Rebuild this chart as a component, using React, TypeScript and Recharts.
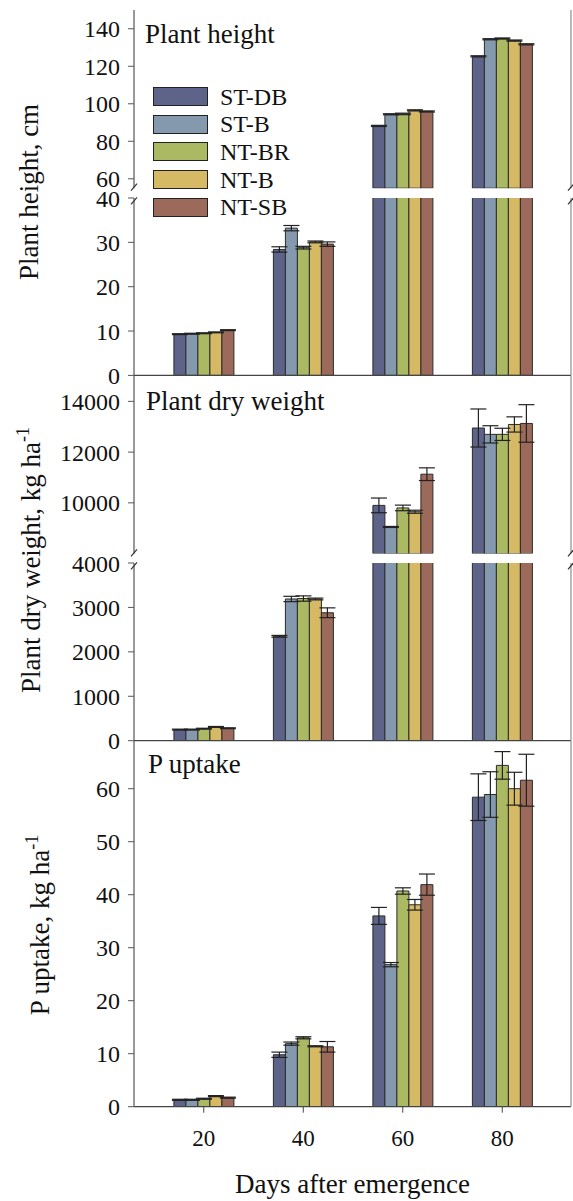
import React from 'react';
import { BarChart, Bar, XAxis, YAxis, ErrorBar, Legend } from 'recharts';

const days = ['20', '40', '60', '80'];
const treatments = ['ST-DB', 'ST-B', 'NT-BR', 'NT-B', 'NT-SB'];
const fills = ['#5d6389', '#8599ae', '#abb963', '#d5b964', '#9b6a5b'];

// plant height, cm (rows = treatments, columns = days)
const heightMean = [
  [9.3, 28.4, 88.2, 125.3],
  [9.4, 33.2, 94.4, 134.4],
  [9.5, 28.8, 94.6, 134.8],
  [9.7, 30.1, 96.5, 133.7],
  [10.2, 29.6, 95.9, 131.7],
];
const heightErr = [
  [0.1, 0.6, 0.3, 0.3],
  [0.1, 0.6, 0.3, 0.3],
  [0.1, 0.3, 0.4, 0.3],
  [0.1, 0.2, 0.3, 0.3],
  [0.1, 0.5, 0.3, 0.3],
];

// plant dry weight, kg/ha
const weightMean = [
  [250, 2350, 9900, 12950],
  [250, 3190, 9050, 12700],
  [270, 3200, 9800, 12700],
  [310, 3190, 9650, 13090],
  [280, 2880, 11130, 13130],
];
const weightErr = [
  [10, 20, 290, 750],
  [10, 60, 20, 340],
  [10, 60, 110, 240],
  [10, 20, 60, 300],
  [10, 110, 250, 740],
];

// P uptake, kg/ha
const uptakeMean = [
  [1.3, 9.8, 36.0, 58.4],
  [1.3, 11.9, 26.8, 58.9],
  [1.5, 13.0, 40.7, 64.4],
  [2.0, 11.4, 38.1, 60.0],
  [1.7, 11.3, 41.9, 61.6],
];
const uptakeErr = [
  [0.1, 0.5, 1.6, 4.4],
  [0.1, 0.3, 0.4, 4.3],
  [0.1, 0.2, 0.6, 2.6],
  [0.1, 0.1, 1.0, 3.1],
  [0.1, 1.0, 2.0, 4.9],
];

const heightUpperTicks = [60, 80, 100, 120, 140];
const heightLowerTicks = [0, 10, 20, 30, 40];
const weightUpperTicks = [10000, 12000, 14000];
const weightLowerTicks = [0, 1000, 2000, 3000, 4000];
const uptakeTicks = [0, 10, 20, 30, 40, 50, 60];

const FONT = 'Liberation Serif, serif';
const W = 573;
const H = 1201;

function LegendBox() {
  return (
    <div style={{ fontFamily: FONT, fontSize: 24, color: '#111' }}>
      {treatments.map((t, k) => (
        <div key={t} style={{ display: 'flex', alignItems: 'center', height: 27.6 }}>
          <div style={{ width: 53, height: 17, background: fills[k], border: '1px solid #222' }} />
          <span style={{ marginLeft: 12, lineHeight: '24px' }}>{t}</span>
        </div>
      ))}
    </div>
  );
}

type SegProps = {
  means: number[][];
  errs: number[][];
  domain: [number, number];
  ticks: number[];
  plotTop: number;
  plotBottom: number;
  axis: 'none' | 'line' | 'labels';
  frameTop?: boolean;
  legend?: boolean;
};

function Segment({ means, errs, domain, ticks, plotTop, plotBottom, axis, frameTop, legend }: SegProps) {
  const [lo, hi] = domain;
  const rows = days.map((day, i) => {
    const row: Record<string, string | number | null> = { day };
    treatments.forEach((_, k) => {
      const v = means[k][i];
      row['v' + k] = v > lo ? v : null;
      row['e' + k] = v > lo && v <= hi ? errs[k][i] : null;
    });
    return row;
  });
  // extra room above / below so edge tick labels are not clipped
  const mt = 14;
  const mb = axis === 'labels' ? 0 : 14;
  const xHeight = axis === 'labels' ? H - plotBottom : axis === 'line' ? 1 : 0;
  const height = mt + (plotBottom - plotTop) + xHeight + mb;
  const chartTop = plotTop - mt;

  return (
    <div style={{ position: 'absolute', left: 0, top: chartTop }}>
      <BarChart
        width={W}
        height={height}
        data={rows}
        margin={{ top: mt, right: 0, bottom: mb, left: 0 }}
        barCategoryGap="20%"
        barGap={0}
      >
        <XAxis
          dataKey="day"
          padding={{ left: 20, right: 19 }}
          hide={axis === 'none'}
          height={xHeight || 1}
          axisLine={{ stroke: '#444', strokeWidth: 1.2 }}
          tick={axis === 'labels' ? { fontFamily: FONT, fontSize: 23, fill: '#111' } : false}
          tickLine={axis === 'labels' ? { stroke: '#444' } : false}
          tickSize={6}
          tickMargin={17}
          label={
            axis === 'labels'
              ? { value: 'Days after emergence', position: 'insideBottom', offset: 8, style: { fontFamily: FONT, fontSize: 27, fill: '#111' } }
              : undefined
          }
        />
        {frameTop && (
          <XAxis
            xAxisId="frame"
            dataKey="day"
            orientation="top"
            height={0}
            tick={false}
            tickLine={false}
            axisLine={{ stroke: '#8c8c8c', strokeWidth: 1.2 }}
          />
        )}
        <YAxis
          type="number"
          domain={domain}
          ticks={ticks}
          interval={0}
          allowDataOverflow
          width={134}
          tickSize={6}
          tickMargin={8}
          axisLine={{ stroke: '#555', strokeWidth: 1.2 }}
          tickLine={{ stroke: '#555' }}
          tick={{ fontFamily: FONT, fontSize: 24, fill: '#111' }}
        />
        <YAxis
          yAxisId="frame"
          orientation="right"
          width={2}
          tick={false}
          tickLine={false}
          axisLine={{ stroke: '#8c8c8c', strokeWidth: 1.2 }}
        />
        {legend && (
          <Legend
            layout="vertical"
            align="center"
            verticalAlign="middle"
            wrapperStyle={{ left: 153, top: 83 - chartTop, width: 140 }}
            content={() => <LegendBox />}
          />
        )}
        {treatments.map((name, k) => (
          <Bar
            key={name}
            dataKey={'v' + k}
            name={name}
            fill={fills[k]}
            stroke="#2b2b2b"
            strokeWidth={1}
            isAnimationActive={false}
          >
            <ErrorBar dataKey={'e' + k} width={8} stroke="#222" strokeWidth={1.2} direction="y" />
          </Bar>
        ))}
      </BarChart>
    </div>
  );
}

function BreakMarks({ x, top, bottom }: { x: number; top: number; bottom: number }) {
  return (
    <g stroke="#333" strokeWidth={1.2} fill="none">
      <line x1={x - 3} y1={top + 3} x2={x + 3} y2={top - 4} />
      <line x1={x - 3} y1={bottom + 6} x2={x + 3} y2={bottom - 1} />
    </g>
  );
}

export default function App() {
  const txt = { fontFamily: FONT, fill: '#111' };
  return (
    <div style={{ position: 'absolute', left: 0, top: 0, width: W, height: H, background: '#fff', overflow: 'hidden', fontFamily: FONT }}>
      <Segment means={heightMean} errs={heightErr} domain={[55, 150]} ticks={heightUpperTicks}
        plotTop={9.5} plotBottom={187.7} axis="none" frameTop legend />
      <Segment means={heightMean} errs={heightErr} domain={[0, 40]} ticks={heightLowerTicks}
        plotTop={198.3} plotBottom={375.7} axis="line" />
      <Segment means={weightMean} errs={weightErr} domain={[8000, 15000]} ticks={weightUpperTicks}
        plotTop={375.7} plotBottom={553.3} axis="none" />
      <Segment means={weightMean} errs={weightErr} domain={[0, 4000]} ticks={weightLowerTicks}
        plotTop={563.3} plotBottom={741} axis="line" />
      <Segment means={uptakeMean} errs={uptakeErr} domain={[0, 69]} ticks={uptakeTicks}
        plotTop={741} plotBottom={1106.7} axis="labels" />

      <svg width={W} height={H} style={{ position: 'absolute', left: 0, top: 0, pointerEvents: 'none' }}>
        <BreakMarks x={134} top={187.7} bottom={198.3} />
        <BreakMarks x={571} top={187.7} bottom={198.3} />
        <BreakMarks x={134} top={553.3} bottom={563.3} />
        <BreakMarks x={571} top={553.3} bottom={563.3} />

        <text x={145} y={43} fontSize={27} style={txt}>Plant height</text>
        <text x={146} y={410} fontSize={27} style={txt}>Plant dry weight</text>
        <text x={148} y={773} fontSize={27} style={txt}>P uptake</text>

        <text transform="translate(38,192) rotate(-90)" textAnchor="middle" fontSize={27} style={txt}>
          Plant height, cm
        </text>
        <text transform="translate(40,560) rotate(-90)" textAnchor="middle" fontSize={27} style={txt}>
          Plant dry weight, kg ha<tspan fontSize={18} dy={-11}>-1</tspan>
        </text>
        <text transform="translate(49,925) rotate(-90)" textAnchor="middle" fontSize={27} style={txt}>
          P uptake, kg ha<tspan fontSize={18} dy={-11}>-1</tspan>
        </text>
      </svg>
    </div>
  );
}
